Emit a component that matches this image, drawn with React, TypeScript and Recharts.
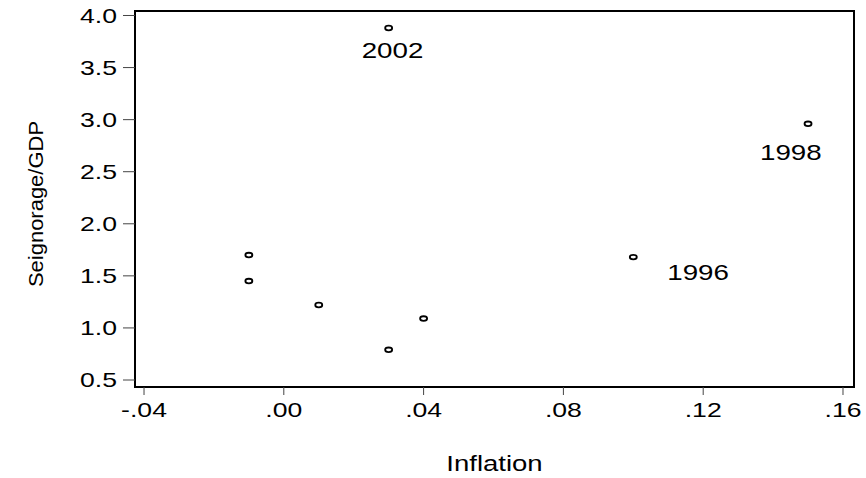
import React from 'react';
import { ScatterChart, Scatter, XAxis, YAxis, ReferenceArea } from 'recharts';

// ---- data ----
const inflation = [-0.01, -0.01, 0.01, 0.03, 0.04, 0.03, 0.10, 0.15];
const seignorage = [1.70, 1.45, 1.22, 0.79, 1.09, 3.88, 1.68, 2.96];
const yearLabels = ['', '', '', '', '', '2002', '1996', '1998'];
const xTicks = [-0.04, 0.0, 0.04, 0.08, 0.12, 0.16];
const yTicks = [0.5, 1.0, 1.5, 2.0, 2.5, 3.0, 3.5, 4.0];

const data = inflation.map((x, i) => ({ x, y: seignorage[i], label: yearLabels[i] }));

// axis ranges (frame extends slightly beyond the outer ticks)
const X_DOMAIN: [number, number] = [-0.04258, 0.16315];
const Y_DOMAIN: [number, number] = [0.4328, 4.0432];

// label placement (style, relative to the point)
const labelOffsets: Record<string, [number, number]> = {
  '2002': [-27, 30],
  '1996': [34, 23],
  '1998': [-48, 36],
};

const FONT = '"Liberation Sans", Arial, Helvetica, sans-serif';

const fmtX = (v: number) => {
  const s = Math.abs(v).toFixed(2).replace(/^0/, '');
  return v < 0 ? '-' + s : s;
};

const XTick = (props: any) => {
  const { x, y, payload } = props;
  return (
    <g transform={`translate(${x},${y}) scale(1.33,1)`}>
      <text x={0} y={0} dy="0.71em" textAnchor="middle" fontFamily={FONT} fontSize={20} fill="#000">
        {fmtX(payload.value)}
      </text>
    </g>
  );
};

const YTick = (props: any) => {
  const { x, y, payload } = props;
  return (
    <g transform={`translate(${x},${y}) scale(1.33,1)`}>
      <text x={0} y={0} dy="0.355em" textAnchor="end" fontFamily={FONT} fontSize={20} fill="#000">
        {Number(payload.value).toFixed(1)}
      </text>
    </g>
  );
};

const XLabel = (props: any) => {
  const vb = props.viewBox || { x: 135, y: 387, width: 719, height: 91 };
  const cx = vb.x + vb.width / 2;
  const by = vb.y + 84;
  return (
    <g transform={`translate(${cx},${by}) scale(1.25,1)`}>
      <text x={0} y={0} textAnchor="middle" fontFamily={FONT} fontSize={22} fill="#000">
        Inflation
      </text>
    </g>
  );
};

const YLabel = (props: any) => {
  const vb = props.viewBox || { x: 0, y: 11, width: 135, height: 376 };
  const cy = vb.y + vb.height / 2 + 5;
  return (
    <g transform={`translate(36,${cy}) rotate(-90) scale(1,0.9)`}>
      <text x={0} y={0} dy="0.358em" textAnchor="middle" fontFamily={FONT} fontSize={22} fill="#000">
        Seignorage/GDP
      </text>
    </g>
  );
};

const Marker = (props: any) => {
  const { cx, cy, payload } = props;
  const lbl = payload && payload.label;
  const off = lbl ? labelOffsets[lbl] || [10, 20] : null;
  return (
    <g>
      <ellipse cx={cx} cy={cy} rx={3.5} ry={2.3} fill="#fff" stroke="#000" strokeWidth={1.8} />
      {lbl && off ? (
        <g transform={`translate(${cx + off[0]},${cy + off[1]}) scale(1.26,1)`}>
          <text x={0} y={0} textAnchor="start" fontFamily={FONT} fontSize={22} fill="#000">
            {lbl}
          </text>
        </g>
      ) : null}
    </g>
  );
};

export default function App() {
  return (
    <div style={{ position: 'absolute', left: 0, top: 0, width: 866, height: 478, background: '#fff' }}>
      <ScatterChart width={866} height={478} margin={{ top: 11, right: 12, bottom: 0, left: 0 }}>
        <XAxis
          dataKey="x"
          type="number"
          domain={X_DOMAIN}
          allowDataOverflow
          ticks={xTicks}
          interval={0}
          height={91}
          tickSize={8}
          tickMargin={8}
          axisLine={{ stroke: '#000', strokeWidth: 2 }}
          tickLine={{ stroke: '#444', strokeWidth: 1 }}
          tick={<XTick />}
          label={{ value: 'Inflation', content: <XLabel /> }}
        />
        <YAxis
          dataKey="y"
          type="number"
          domain={Y_DOMAIN}
          allowDataOverflow
          ticks={yTicks}
          interval={0}
          width={135}
          tickSize={12}
          tickMargin={6}
          axisLine={{ stroke: '#000', strokeWidth: 2 }}
          tickLine={{ stroke: '#444', strokeWidth: 1 }}
          tick={<YTick />}
          label={{ value: 'Seignorage/GDP', content: <YLabel /> }}
        />
        <ReferenceArea
          x1={X_DOMAIN[0]}
          x2={X_DOMAIN[1]}
          y1={Y_DOMAIN[0]}
          y2={Y_DOMAIN[1]}
          fill="none"
          fillOpacity={0}
          stroke="#000"
          strokeWidth={2}
          ifOverflow="visible"
        />
        <Scatter data={data} isAnimationActive={false} shape={<Marker />} />
      </ScatterChart>
    </div>
  );
}
